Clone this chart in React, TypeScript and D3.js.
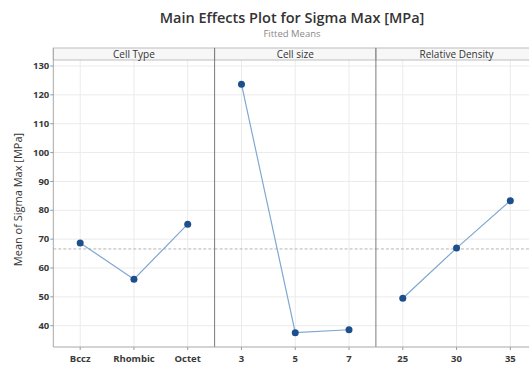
import React from "react";
import * as d3 from "d3";

// Factor panels and their fitted means
const panelTitles = ["Cell Type", "Cell size", "Relative Density"];
const cellTypeLevels = ["Bccz", "Rhombic", "Octet"];
const cellTypeMeans = [68.7, 56.1, 75.2];
const cellSizeLevels = ["3", "5", "7"];
const cellSizeMeans = [123.7, 37.6, 38.6];
const densityLevels = ["25", "30", "35"];
const densityMeans = [49.5, 66.9, 83.3];
const grandMean = 66.6;
const yTicks = [40, 50, 60, 70, 80, 90, 100, 110, 120, 130];

const W = 529;
const H = 370;
const plotLeft = 53.3;
const panelW = 161.3;
const stripTop = 48;
const plotTop = 60;
const plotBottom = 347;
const font = "'Open Sans', 'Noto Sans', sans-serif";

export default function App() {
  const y = d3.scaleLinear().domain([32.62, 132.08]).range([plotBottom, plotTop]);
  const panels = [
    { title: panelTitles[0], levels: cellTypeLevels, means: cellTypeMeans },
    { title: panelTitles[1], levels: cellSizeLevels, means: cellSizeMeans },
    { title: panelTitles[2], levels: densityLevels, means: densityMeans },
  ];
  const plotRight = plotLeft + panelW * panels.length;

  return (
    <svg
      width={W}
      height={H}
      style={{ position: "absolute", left: 0, top: 0, background: "#fff" }}
      fontFamily={font}
    >
      <text x={292} y={23} textAnchor="middle" fontSize={14.5} fontWeight={600} fill="#333">
        Main Effects Plot for Sigma Max [MPa]
      </text>
      <text x={292} y={37} textAnchor="middle" fontSize={9.5} fill="#8a8a8a">
        Fitted Means
      </text>

      {/* horizontal gridlines */}
      {yTicks.map((t) => (
        <line key={"g" + t} x1={plotLeft} x2={plotRight} y1={y(t)} y2={y(t)} stroke="#ebebeb" strokeWidth={1} />
      ))}

      {panels.map((p, i) => {
        const x0 = plotLeft + i * panelW;
        const x = d3.scalePoint<string>().domain(p.levels).range([x0, x0 + panelW]).padding(0.5);
        const pts = p.levels.map((l, k) => [x(l) as number, y(p.means[k])] as [number, number]);
        const line = d3.line()(pts) as string;
        return (
          <g key={p.title}>
            {p.levels.map((l) => (
              <g key={l}>
                <line x1={x(l)} x2={x(l)} y1={plotTop} y2={plotBottom} stroke="#ebebeb" strokeWidth={1} />
                <line x1={x(l)} x2={x(l)} y1={plotBottom} y2={plotBottom + 3} stroke="#999" strokeWidth={1} />
                <text x={x(l)} y={362} textAnchor="middle" fontSize={9.5} fontWeight={700} fill="#3a3a3a">
                  {l}
                </text>
              </g>
            ))}
            {/* strip */}
            <rect x={x0} y={stripTop} width={panelW} height={plotTop - stripTop} fill="#f7f7f7" stroke="#bdbdbd" strokeWidth={1} />
            <text x={x0 + panelW / 2} y={58} textAnchor="middle" fontSize={10} fill="#333">
              {p.title}
            </text>
            {/* grand mean reference */}
            <line x1={x0} x2={x0 + panelW} y1={y(grandMean)} y2={y(grandMean)} stroke="#b5b5b5" strokeWidth={1} strokeDasharray="3,2" />
            <path d={line} fill="none" stroke="#7fa7d0" strokeWidth={1.2} />
            {pts.map((pt, k) => (
              <circle key={k} cx={pt[0]} cy={pt[1]} r={3.5} fill="#1c4f8c" />
            ))}
            {i > 0 && <line x1={x0} x2={x0} y1={stripTop} y2={plotBottom} stroke="#7a7a7a" strokeWidth={1} />}
          </g>
        );
      })}

      {/* frame */}
      <line x1={plotLeft} x2={plotLeft} y1={stripTop} y2={plotBottom} stroke="#a8a8a8" strokeWidth={1} />
      <line x1={plotLeft} x2={plotRight} y1={plotBottom} y2={plotBottom} stroke="#a8a8a8" strokeWidth={1} />

      {yTicks.map((t) => (
        <g key={"t" + t}>
          <line x1={plotLeft - 3} x2={plotLeft} y1={y(t)} y2={y(t)} stroke="#999" strokeWidth={1} />
          <text x={plotLeft - 4} y={y(t) + 3.2} textAnchor="end" fontSize={9.5} fontWeight={700} fill="#3a3a3a">
            {t}
          </text>
        </g>
      ))}

      <text
        transform={`translate(22,${(plotTop + plotBottom) / 2 - 4}) rotate(-90)`}
        textAnchor="middle"
        fontSize={11}
        fill="#333"
      >
        Mean of Sigma Max [MPa]
      </text>
    </svg>
  );
}
